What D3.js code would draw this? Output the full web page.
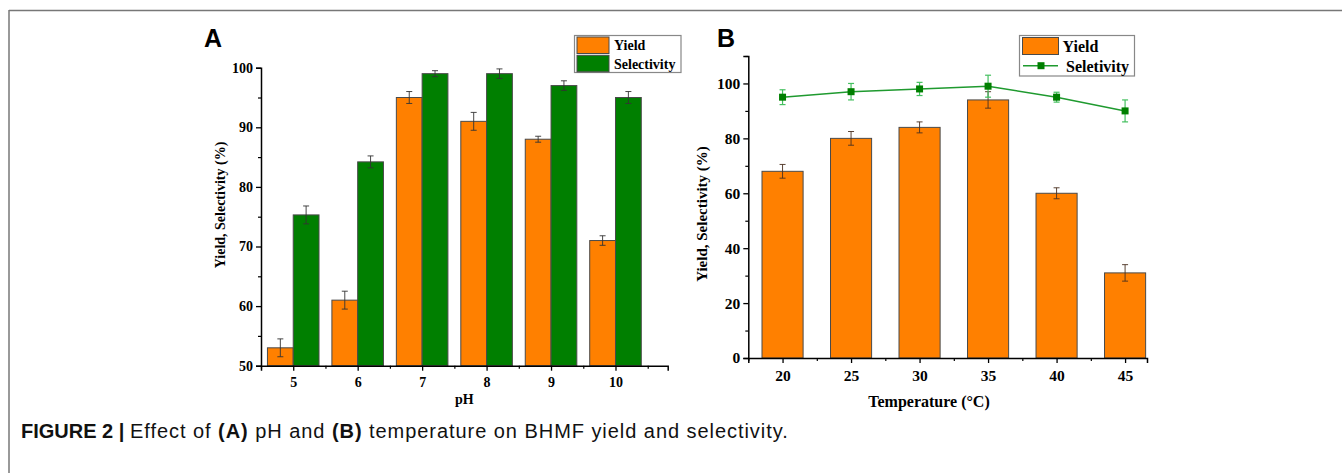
<!DOCTYPE html>
<html>
<head>
<meta charset="utf-8">
<script src="https://cdn.jsdelivr.net/npm/d3@7"></script>
<style>
  html, body { margin: 0; padding: 0; background: #fff; }
  svg { display: block; }
  .serif { font-family: "Liberation Serif", "Times New Roman", serif; font-weight: bold; }
  .sans { font-family: "Liberation Sans", Arial, sans-serif; }
</style>
</head>
<body>
<svg id="chart" width="1342" height="473"></svg>
<script>
// ---------- data ----------
const phCats = [5, 6, 7, 8, 9, 10];
const phYield = [53, 61, 95, 91, 88, 71];
const phYieldErr = [1.5, 1.5, 1, 1.5, 0.5, 0.8];
const phSel = [75.3, 84.2, 99, 99, 97, 95];
const phSelErr = [1.5, 1, 0.5, 0.8, 0.8, 1];
const phYTicks = [50, 60, 70, 80, 90, 100];
const phYMinor = [55, 65, 75, 85, 95];
const phXMinor = [4.5, 5.5, 6.5, 7.5, 8.5, 9.5, 10.5];

const tempCats = [20, 25, 30, 35, 40, 45];
const tempYield = [68, 80, 84, 94, 60, 31];
const tempYieldErr = [2.5, 2.5, 2, 3, 2, 3];
const tempSel = [95, 97, 98, 99, 95, 90];
const tempSelErr = [2.7, 3, 2.4, 4, 1.8, 4];
const tempYTicks = [0, 20, 40, 60, 80, 100];
const tempYMinor = [10, 30, 50, 70, 90, 110];
const tempXMinor = [17.5, 22.5, 27.5, 32.5, 37.5, 42.5];

const legendA = ["Yield", "Selectivity"];
const legendB = ["Yield", "Seletivity"];

const ORANGE = "#ff8000";
const GREEN = "#007f00";
const LINEGREEN = "#1f9a2f";
const ERRGREEN = "#45c060";
const BARSTROKE = "#4a4a4a";

const svg = d3.select("#chart");

// frame
svg.append("line").attr("x1", 9).attr("x2", 1342).attr("y1", 10.5).attr("y2", 10.5)
  .attr("stroke", "#777").attr("stroke-width", 1.5);
svg.append("line").attr("x1", 9).attr("x2", 9).attr("y1", 10).attr("y2", 473)
  .attr("stroke", "#777").attr("stroke-width", 1.5);

function styleAxis(g, fs) {
  g.select(".domain").attr("stroke", "#000").attr("stroke-width", 1.5);
  g.selectAll(".tick line").attr("stroke", "#000").attr("stroke-width", 1.3);
  g.selectAll(".tick text").attr("class", "serif").attr("font-size", fs).attr("fill", "#000");
}

// ================= Panel A =================
const xA = d3.scaleLinear().domain([4.5, 10.81]).range([261, 667.7]);
const yA = d3.scaleLinear().domain([50, 100]).range([365.7, 67.7]);
const gA = svg.append("g");

const bw = 0.4;
gA.selectAll("rect.yA").data(phCats).join("rect")
  .attr("x", d => xA(d - bw)).attr("width", d => xA(d) - xA(d - bw))
  .attr("y", (d, i) => yA(phYield[i])).attr("height", (d, i) => yA(50) - yA(phYield[i]))
  .attr("fill", ORANGE).attr("stroke", BARSTROKE).attr("stroke-width", 1);
gA.selectAll("rect.sA").data(phCats).join("rect")
  .attr("x", d => xA(d)).attr("width", d => xA(d + bw) - xA(d))
  .attr("y", (d, i) => yA(phSel[i])).attr("height", (d, i) => yA(50) - yA(phSel[i]))
  .attr("fill", GREEN).attr("stroke", BARSTROKE).attr("stroke-width", 1);

function errBars(g, xs, vals, errs, xScale, yScale, color, cap, sw) {
  xs.forEach((cx, i) => {
    const x = xScale(cx), y1 = yScale(vals[i] - errs[i]), y2 = yScale(vals[i] + errs[i]);
    g.append("line").attr("x1", x).attr("x2", x).attr("y1", y1).attr("y2", y2).attr("stroke", color).attr("stroke-width", sw);
    g.append("line").attr("x1", x - cap).attr("x2", x + cap).attr("y1", y1).attr("y2", y1).attr("stroke", color).attr("stroke-width", sw);
    g.append("line").attr("x1", x - cap).attr("x2", x + cap).attr("y1", y2).attr("y2", y2).attr("stroke", color).attr("stroke-width", sw);
  });
}
errBars(gA, phCats.map(c => c - bw / 2), phYield, phYieldErr, xA, yA, "#333", 3, 0.9);
errBars(gA, phCats.map(c => c + bw / 2), phSel, phSelErr, xA, yA, "#333", 3, 0.9);

// axes A
const axAy = gA.append("g").attr("transform", `translate(${xA(4.5)},0)`)
  .call(d3.axisLeft(yA).tickValues(phYTicks).tickSize(5).tickPadding(3).tickFormat(d3.format("d")));
styleAxis(axAy, 14);
const axAyMin = gA.append("g").attr("transform", `translate(${xA(4.5)},0)`)
  .call(d3.axisLeft(yA).tickValues(phYMinor).tickSize(3).tickFormat(""));
axAyMin.select(".domain").remove();
axAyMin.selectAll(".tick line").attr("stroke", "#000").attr("stroke-width", 1.2);

const axAx = gA.append("g").attr("transform", `translate(0,${yA(50)})`)
  .call(d3.axisBottom(xA).tickValues(phCats).tickSize(5).tickPadding(6).tickFormat(d3.format("d")));
styleAxis(axAx, 14);
const axAxMin = gA.append("g").attr("transform", `translate(0,${yA(50)})`)
  .call(d3.axisBottom(xA).tickValues(phXMinor).tickSize(3).tickFormat(""));
axAxMin.select(".domain").remove();
axAxMin.selectAll(".tick line").attr("stroke", "#000").attr("stroke-width", 1.2);

gA.append("text").attr("class", "serif").attr("font-size", 14)
  .attr("x", (xA(4.5) + xA(10.81)) / 2).attr("y", 404).attr("text-anchor", "middle").text("pH");
gA.append("text").attr("class", "serif").attr("font-size", 14)
  .attr("transform", "translate(225,205) rotate(-90)").attr("text-anchor", "middle")
  .text("Yield, Selectivity (%)");
gA.append("text").attr("class", "sans").attr("font-weight", "bold").attr("font-size", 25)
  .attr("x", 204).attr("y", 46.5).text("A");

// legend A
const lgA = gA.append("g");
lgA.append("rect").attr("x", 574.5).attr("y", 35.5).attr("width", 106.5).attr("height", 37)
  .attr("fill", "#fff").attr("stroke", "#888").attr("stroke-width", 1.2);
[ORANGE, GREEN].forEach((c, i) => {
  lgA.append("rect").attr("x", 577).attr("y", 37 + i * 18.3).attr("width", 32).attr("height", 16.5)
    .attr("fill", c).attr("stroke", BARSTROKE).attr("stroke-width", 1);
  lgA.append("text").attr("class", "serif").attr("font-size", 14)
    .attr("x", 614).attr("y", 50 + i * 19).text(legendA[i]);
});

// ================= Panel B =================
const xB = d3.scaleLinear().domain([17.5, 46.6]).range([748.3, 1147]);
const yB = d3.scaleLinear().domain([0, 110]).range([358, 56]);
const gB = svg.append("g");

gB.selectAll("rect.yB").data(tempCats).join("rect")
  .attr("x", d => xB(d - 1.5)).attr("width", d => xB(d + 1.5) - xB(d - 1.5))
  .attr("y", (d, i) => yB(tempYield[i])).attr("height", (d, i) => yB(0) - yB(tempYield[i]))
  .attr("fill", ORANGE).attr("stroke", BARSTROKE).attr("stroke-width", 1);
errBars(gB, tempCats, tempYield, tempYieldErr, xB, yB, "#4a3020", 3, 0.9);

// selectivity line
const line = d3.line().x(d => xB(d[0])).y(d => yB(d[1]));
gB.append("path").datum(tempCats.map((c, i) => [c, tempSel[i]]))
  .attr("d", line).attr("fill", "none").attr("stroke", LINEGREEN).attr("stroke-width", 1.5);
errBars(gB, tempCats, tempSel, tempSelErr, xB, yB, ERRGREEN, 3, 1.2);
gB.selectAll("rect.mk").data(tempCats).join("rect")
  .attr("x", d => xB(d) - 3.5).attr("y", (d, i) => yB(tempSel[i]) - 3.5)
  .attr("width", 7).attr("height", 7).attr("fill", GREEN);

// axes B
const axBy = gB.append("g").attr("transform", `translate(${xB(17.5)},0)`)
  .call(d3.axisLeft(yB).tickValues(tempYTicks).tickSize(5).tickPadding(3).tickFormat(d3.format("d")));
styleAxis(axBy, 15.5);
const axByMin = gB.append("g").attr("transform", `translate(${xB(17.5)},0)`)
  .call(d3.axisLeft(yB).tickValues(tempYMinor).tickSize(3).tickFormat(""));
axByMin.select(".domain").remove();
axByMin.selectAll(".tick line").attr("stroke", "#000").attr("stroke-width", 1.2);

const axBx = gB.append("g").attr("transform", `translate(0,${yB(0)})`)
  .call(d3.axisBottom(xB).tickValues(tempCats).tickSize(5).tickPadding(7).tickFormat(d3.format("d")));
styleAxis(axBx, 15.5);
const axBxMin = gB.append("g").attr("transform", `translate(0,${yB(0)})`)
  .call(d3.axisBottom(xB).tickValues(tempXMinor).tickSize(3).tickFormat(""));
axBxMin.select(".domain").remove();
axBxMin.selectAll(".tick line").attr("stroke", "#000").attr("stroke-width", 1.2);

gB.append("text").attr("class", "serif").attr("font-size", 16)
  .attr("x", 929).attr("y", 407).attr("text-anchor", "middle").text("Temperature (°C)");
gB.append("text").attr("class", "serif").attr("font-size", 15)
  .attr("transform", "translate(707,214) rotate(-90)").attr("text-anchor", "middle")
  .text("Yield, Selectivity (%)");
gB.append("text").attr("class", "sans").attr("font-weight", "bold").attr("font-size", 25)
  .attr("x", 717).attr("y", 46.5).text("B");

// legend B
const lgB = gB.append("g");
lgB.append("rect").attr("x", 1019.5).attr("y", 35.5).attr("width", 115).attr("height", 40.5)
  .attr("fill", "#fff").attr("stroke", "#888").attr("stroke-width", 1.2);
lgB.append("rect").attr("x", 1022.5).attr("y", 37.5).attr("width", 36).attr("height", 17)
  .attr("fill", ORANGE).attr("stroke", BARSTROKE).attr("stroke-width", 1);
lgB.append("line").attr("x1", 1023).attr("x2", 1058).attr("y1", 65.7).attr("y2", 65.7)
  .attr("stroke", LINEGREEN).attr("stroke-width", 1.5);
lgB.append("rect").attr("x", 1037.5).attr("y", 62.2).attr("width", 7).attr("height", 7).attr("fill", GREEN);
lgB.append("text").attr("class", "serif").attr("font-size", 16).attr("x", 1062.5).attr("y", 51.5).text(legendB[0]);
lgB.append("text").attr("class", "serif").attr("font-size", 16).attr("x", 1066).attr("y", 72).text(legendB[1]);

// caption
const cap = svg.append("text").attr("class", "sans").attr("font-size", 20).attr("x", 21).attr("y", 438).attr("fill", "#111");
const parts = [
  ["FIGURE 2 | ", true, 0], ["Effect of ", false, 0.95], ["(A)", true, 0.95], [" pH and ", false, 0.95],
  ["(B)", true, 0.95], [" temperature on BHMF yield and selectivity.", false, 0.95]
];
parts.forEach(p => cap.append("tspan").attr("font-weight", p[1] ? "bold" : "normal")
  .attr("letter-spacing", p[2]).text(p[0]));
</script>
</body>
</html>
